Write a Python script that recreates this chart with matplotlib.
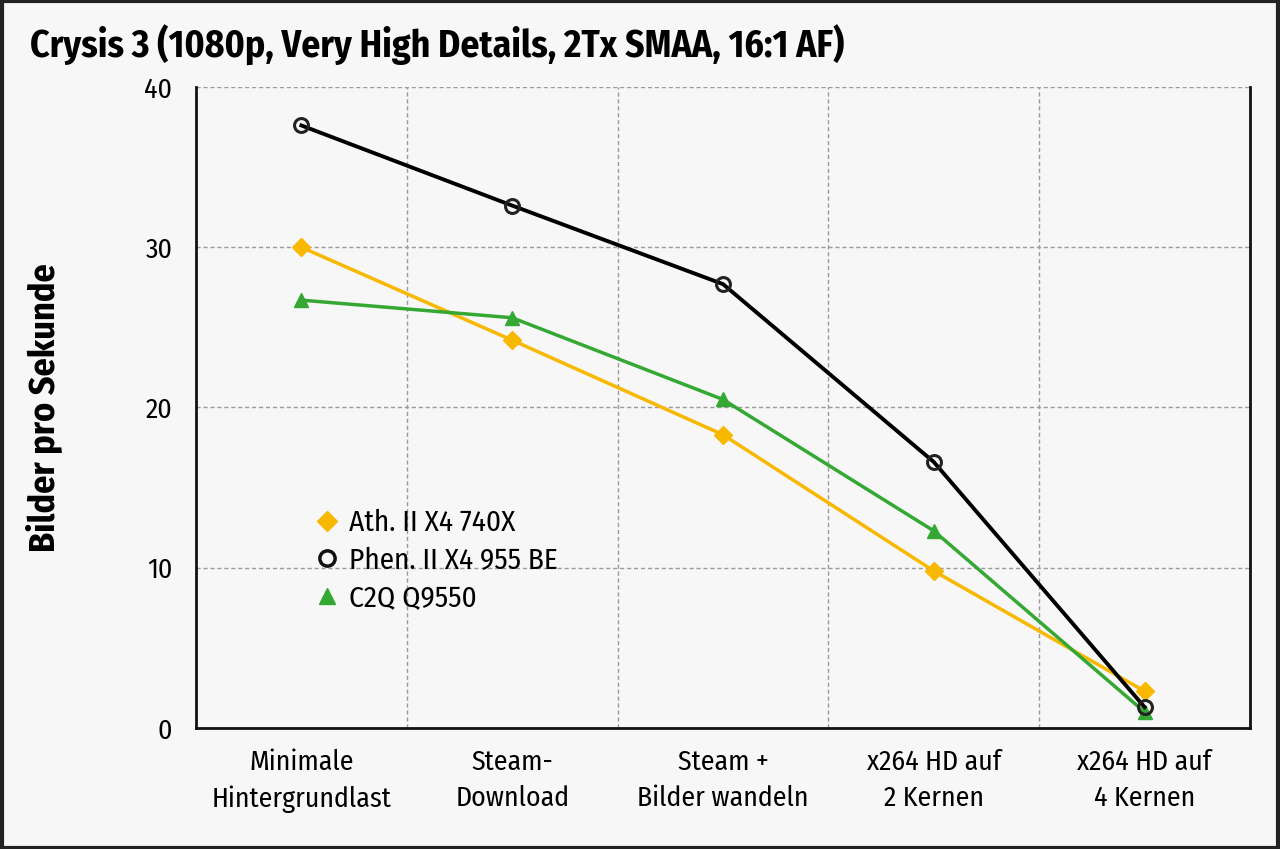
import matplotlib
matplotlib.use("Agg")
import matplotlib.pyplot as plt
from matplotlib.lines import Line2D
import numpy as np

plt.rcParams['font.family'] = ['Fira Sans Condensed', 'DejaVu Sans']

categories = ['Minimale\nHintergrundlast', 'Steam-\nDownload', 'Steam +\nBilder wandeln',
              'x264 HD auf\n2 Kernen', 'x264 HD auf\n4 Kernen']
athlon = [30.0, 24.2, 18.3, 9.8, 2.3]
phenom = [37.6, 32.6, 27.7, 16.6, 1.3]
c2q = [26.7, 25.6, 20.5, 12.3, 1.0]
series_names = ['Ath. II X4 740X', 'Phen. II X4 955 BE', 'C2Q Q9550']
yticks = [0, 10, 20, 30, 40]

yellow = '#f8b800'
green = '#35a834'
bg = '#f7f7f7'

fig = plt.figure(figsize=(12.8, 8.49), dpi=100, facecolor=bg)
ax = fig.add_axes([196/1280, 1 - 728/849, 1054/1280, 641/849])
ax.set_facecolor(bg)

x = np.arange(len(categories))
ax.plot(x, athlon, color=yellow, lw=2.5, marker='D', ms=9, mfc=yellow, mec=yellow, zorder=3)
ax.plot(x, c2q, color=green, lw=2.5, marker='^', ms=10, mfc=green, mec=green, zorder=4)
ax.plot(x, phenom, color='black', lw=2.8, marker='o', ms=10, mfc='none', mec='#222222', mew=2.2, zorder=5)

ax.set_xlim(-0.5, 4.5)
ax.set_ylim(0, 40)
ax.set_xticks(x)
ax.set_xticklabels(categories, fontsize=20, linespacing=1.45)
ax.set_xticks(np.arange(0.5, 4.0, 1.0), minor=True)
ax.set_yticks(yticks)
ax.set_yticklabels([str(v) for v in yticks], fontsize=20)
ax.tick_params(axis='both', which='both', length=0)
ax.tick_params(axis='x', pad=15)
ax.tick_params(axis='y', pad=17)

ax.grid(axis='y', which='major', ls=(0, (3, 2)), color='#9a9a9a', lw=1)
ax.grid(axis='x', which='minor', ls=(0, (3, 2)), color='#9a9a9a', lw=1)
ax.set_axisbelow(True)

for side in ['left', 'bottom', 'right']:
    ax.spines[side].set_linewidth(2)
    ax.spines[side].set_color('#111111')
ax.spines['top'].set_visible(False)

ax.set_ylabel('Bilder pro Sekunde', fontsize=26, fontweight='bold')
ax.yaxis.set_label_coords(-0.127, 0.5)

fig.text(30/1280, 1 - 45/849, 'Crysis 3 (1080p, Very High Details, 2Tx SMAA, 16:1 AF)',
         fontsize=27, fontweight='bold', va='center', ha='left')

handles = [
    Line2D([], [], ls='none', marker='D', ms=10, mfc=yellow, mec=yellow),
    Line2D([], [], ls='none', marker='o', ms=11, mfc='none', mec='#111111', mew=2.5),
    Line2D([], [], ls='none', marker='^', ms=12, mfc=green, mec=green),
]
leg = ax.legend(handles, series_names, loc='upper left', bbox_to_anchor=(0.102, 0.36),
                frameon=False, fontsize=21, handlelength=0.8, handletextpad=0.35,
                labelspacing=0.3, borderaxespad=0)

# dark frame around figure
fig.patches.append(plt.Rectangle((0.0015, 0.0015), 0.997, 0.997, transform=fig.transFigure,
                                 fill=False, edgecolor='#222222', lw=3))

fig.savefig('out.png', dpi=100, facecolor=bg)
